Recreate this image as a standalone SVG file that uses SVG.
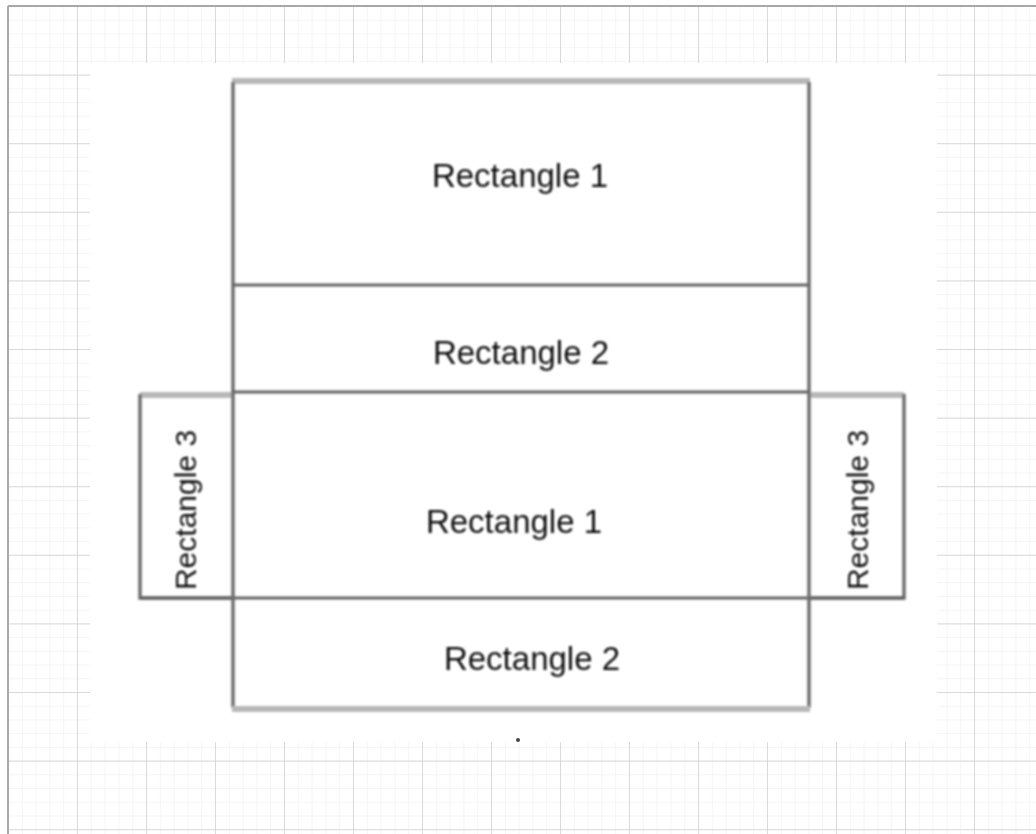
<svg xmlns="http://www.w3.org/2000/svg" width="1036" height="834" viewBox="0 0 1036 834">
  <defs>
    <pattern id="minor" x="8" y="6" width="13.8" height="13.72" patternUnits="userSpaceOnUse">
      <path d="M0 0V13.72M0 0H13.8" fill="none" stroke="#ececec" stroke-width="1"/>
    </pattern>
    <pattern id="major" x="8" y="6" width="69" height="68.6" patternUnits="userSpaceOnUse">
      <path d="M0 0V68.6M0 0H69" fill="none" stroke="#cfcfcf" stroke-width="1.5"/>
    </pattern>
    <filter id="soft" x="-5%" y="-5%" width="110%" height="110%">
      <feGaussianBlur stdDeviation="0.8"/>
    </filter>
  </defs>
  <style>
    .lbl { font-family: "Liberation Sans", Arial, sans-serif; font-size: 33px; fill: #111; text-anchor: middle; }
    .side { font-size: 30px; }
    .edge { stroke: #6e6e6e; stroke-width: 3.5; fill: none; }
    .band { stroke: #b8b8b8; stroke-width: 6; fill: none; }
    .div { stroke: #626262; stroke-width: 3.2; fill: none; }
  </style>
  <rect width="1036" height="834" fill="#ffffff"/>
  <rect x="8" y="6" width="1028" height="828" fill="url(#minor)"/>
  <rect x="8" y="6" width="1028" height="828" fill="url(#major)"/>
  <path d="M8 6H1036M8 6V834" stroke="#a8a8a8" stroke-width="2" fill="none"/>
  <rect x="90" y="63" width="847" height="679" fill="#ffffff"/>

  <g id="shapes" filter="url(#soft)">
    <g id="rect3-left">
      <path class="band" d="M140 395H232"/>
      <path class="edge" d="M140 394V598H232"/>
      <text class="lbl side" transform="translate(196 510) rotate(-90)">Rectangle 3</text>
    </g>
    <g id="rect3-right">
      <path class="band" d="M810 395H904"/>
      <path class="edge" d="M904 394V598H810"/>
      <text class="lbl side" transform="translate(868 510) rotate(-90)">Rectangle 3</text>
    </g>
    <g id="rect1-top">
      <path class="band" d="M232 81H810"/>
      <path class="edge" d="M233 82V285M809 82V285"/>
      <text class="lbl" x="520" y="187">Rectangle 1</text>
    </g>
    <g id="rect2-top">
      <path class="div" d="M232 285H810"/>
      <path class="edge" d="M233 285V392M809 285V392"/>
      <text class="lbl" x="521" y="364">Rectangle 2</text>
    </g>
    <g id="rect1-mid">
      <path class="div" d="M232 392H810M140 598H904"/>
      <path class="edge" d="M233 392V598M809 392V598"/>
      <text class="lbl" x="514" y="533">Rectangle 1</text>
    </g>
    <g id="rect2-bottom">
      <path class="edge" d="M233 598V708M809 598V708"/>
      <path class="band" d="M232 709H810"/>
      <text class="lbl" x="532" y="670">Rectangle 2</text>
    </g>
  </g>
  <circle cx="518" cy="740" r="2" fill="#444"/>
</svg>
